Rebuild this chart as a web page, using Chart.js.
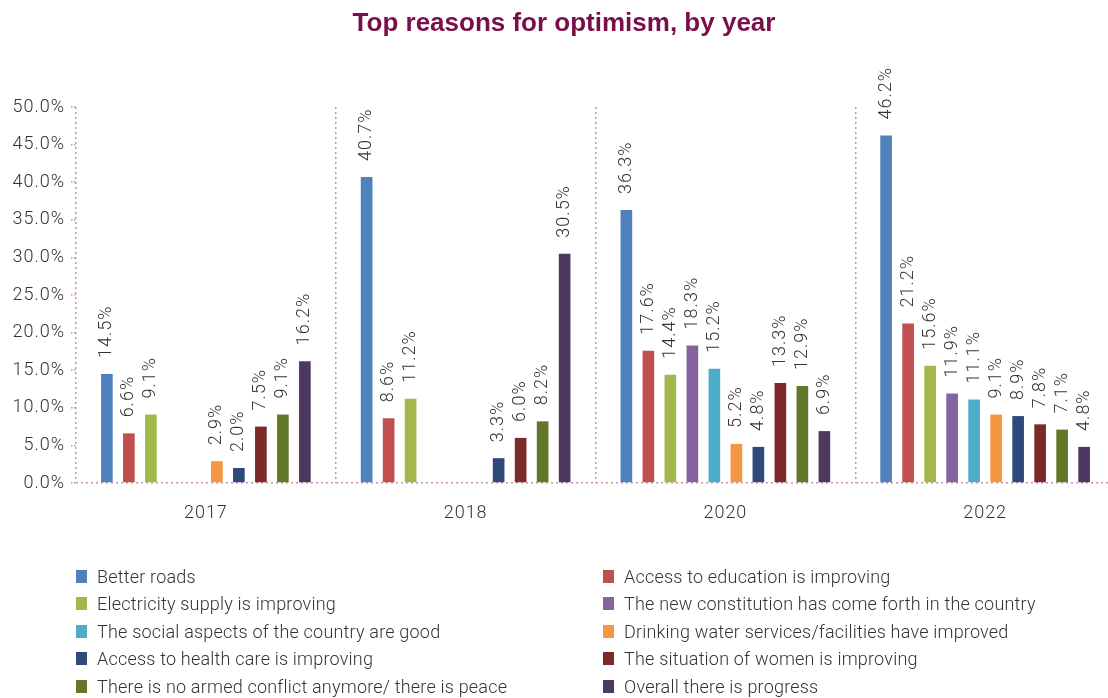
<!DOCTYPE html>
<html>
<head>
<meta charset="utf-8">
<script src="https://cdn.jsdelivr.net/npm/chart.js@4/dist/chart.umd.min.js"></script>
<style>
  html, body { margin: 0; padding: 0; background: #fff; overflow: hidden; }
  #wrap { position: relative; width: 1128px; height: 698px; }
  #chart { position: absolute; left: 0; top: 0; }
  #title { position: absolute; left: 0; top: 6px; width: 1128px; text-align: center;
           font-family: "Liberation Sans", Arial, sans-serif; font-weight: bold; font-size: 26px;
           line-height: 32px; color: #7A0D4B; }
  #legend { position: absolute; left: 0; top: 0; width: 1128px; height: 698px; pointer-events: none;
            font-family: Roboto, "Liberation Sans", sans-serif; font-weight: 300; font-size: 18px;
            letter-spacing: 0.2px; color: #333; }
  .item { position: absolute; height: 20px; line-height: 20px; white-space: nowrap; }
  .item i { position: absolute; left: 0; top: 3px; width: 11px; height: 13px; }
  .item span { position: absolute; left: 21px; top: 0; }
</style>
</head>
<body>
<div id="wrap">
  <canvas id="chart" width="1128" height="545" style="width:1128px;height:545px"></canvas>
  <div id="title">Top reasons for optimism, by year</div>
  <div id="legend"></div>
</div>
<script>
document.addEventListener('DOMContentLoaded', () => {
  const years = ['2017', '2018', '2020', '2022'];

  const reasons = [
    'Better roads',
    'Access to education is improving',
    'Electricity supply is improving',
    'The new constitution has come forth in the country',
    'The social aspects of the country are good',
    'Drinking water services/facilities have improved',
    'Access to health care is improving',
    'The situation of women is improving',
    'There is no armed conflict anymore/ there is peace',
    'Overall there is progress'
  ];

  // share of respondents (%) per reason, one value per year; null = not asked that year
  const betterRoads   = [14.5, 40.7, 36.3, 46.2];
  const education     = [6.6, 8.6, 17.6, 21.2];
  const electricity   = [9.1, 11.2, 14.4, 15.6];
  const constitution  = [null, null, 18.3, 11.9];
  const socialAspects = [null, null, 15.2, 11.1];
  const drinkingWater = [2.9, null, 5.2, 9.1];
  const healthCare    = [2.0, 3.3, 4.8, 8.9];
  const women         = [7.5, 6.0, 13.3, 7.8];
  const peace         = [9.1, 8.2, 12.9, 7.1];
  const progress      = [16.2, 30.5, 6.9, 4.8];

  const yTicks = [0, 5, 10, 15, 20, 25, 30, 35, 40, 45, 50];

  const seriesValues = [betterRoads, education, electricity, constitution, socialAspects,
                        drinkingWater, healthCare, women, peace, progress];
  const colors = ['#4F81BD', '#C0504D', '#A3B84B', '#8562A0', '#4FACC7',
                  '#F59642', '#2F4A78', '#7B2A29', '#637729', '#4F3860'];

  const dotted = '#C792AA';
  const textFont = 'Roboto, "Liberation Sans", sans-serif';

  // slightly tracked-out text for ticks and value labels
  const spacing = {
    id: 'spacing',
    beforeDraw(chart) { chart.ctx.letterSpacing = '1px'; }
  };

  // vertical value labels above each bar
  const barLabels = {
    id: 'barLabels',
    afterDatasetsDraw(chart) {
      const ctx = chart.ctx;
      ctx.save();
      ctx.letterSpacing = '1px';
      ctx.font = '300 18px ' + textFont;
      ctx.fillStyle = '#333';
      ctx.textAlign = 'left';
      ctx.textBaseline = 'middle';
      chart.data.datasets.forEach((ds, i) => {
        chart.getDatasetMeta(i).data.forEach((bar, j) => {
          const v = ds.data[j];
          if (v === null || v === undefined) return;
          ctx.save();
          ctx.translate(bar.x, bar.y - 16);
          ctx.rotate(-Math.PI / 2);
          ctx.fillText(v.toFixed(1) + '%', 0, 0);
          ctx.restore();
        });
      });
      ctx.restore();
    }
  };

  new Chart(document.getElementById('chart'), {
    type: 'bar',
    data: {
      labels: years,
      datasets: reasons.map((name, i) => ({
        label: name,
        data: seriesValues[i],
        backgroundColor: colors[i],
        categoryPercentage: 0.847,
        barPercentage: 0.53
      }))
    },
    options: {
      responsive: false,
      animation: false,
      layout: { padding: { left: 0, right: 13, top: 107, bottom: 0 } },
      plugins: {
        legend: { display: false },
        tooltip: { enabled: false },
        title: { display: false }
      },
      scales: {
        x: {
          afterFit: s => { s.height = 62; },
          grid: { display: true, offset: true, color: dotted, lineWidth: 1.5, drawTicks: false },
          border: { display: false, dash: [2, 3] },
          ticks: { color: '#333', padding: 20, font: { family: textFont, size: 18, weight: 300 } }
        },
        y: {
          min: 0,
          max: 50,
          afterFit: s => { s.width = 76; },
          afterBuildTicks: s => { s.ticks = yTicks.map(v => ({ value: v })); },
          grid: {
            drawTicks: true,
            tickLength: 5,
            tickColor: dotted,
            tickBorderDash: [1.5, 1.5],
            lineWidth: 1.5,
            color: c => (c.tick && c.tick.value === 0 ? dotted : 'rgba(0,0,0,0)')
          },
          border: { display: false, dash: [2, 3] },
          ticks: {
            color: '#333',
            padding: 6,
            font: { family: textFont, size: 18, weight: 300 },
            callback: v => v.toFixed(1) + '%'
          }
        }
      }
    },
    plugins: [spacing, barLabels]
  });

  // two-column legend: even series on the left, odd on the right
  const legend = document.getElementById('legend');
  reasons.forEach((name, i) => {
    const row = Math.floor(i / 2);
    const el = document.createElement('div');
    el.className = 'item';
    el.style.left = (i % 2 === 0 ? 76 : 603) + 'px';
    el.style.top = (567 + row * 27.4) + 'px';
    el.innerHTML = '<i style="background:' + colors[i] + '"></i><span></span>';
    el.querySelector('span').textContent = name;
    legend.appendChild(el);
  });
});
</script>
</body>
</html>
